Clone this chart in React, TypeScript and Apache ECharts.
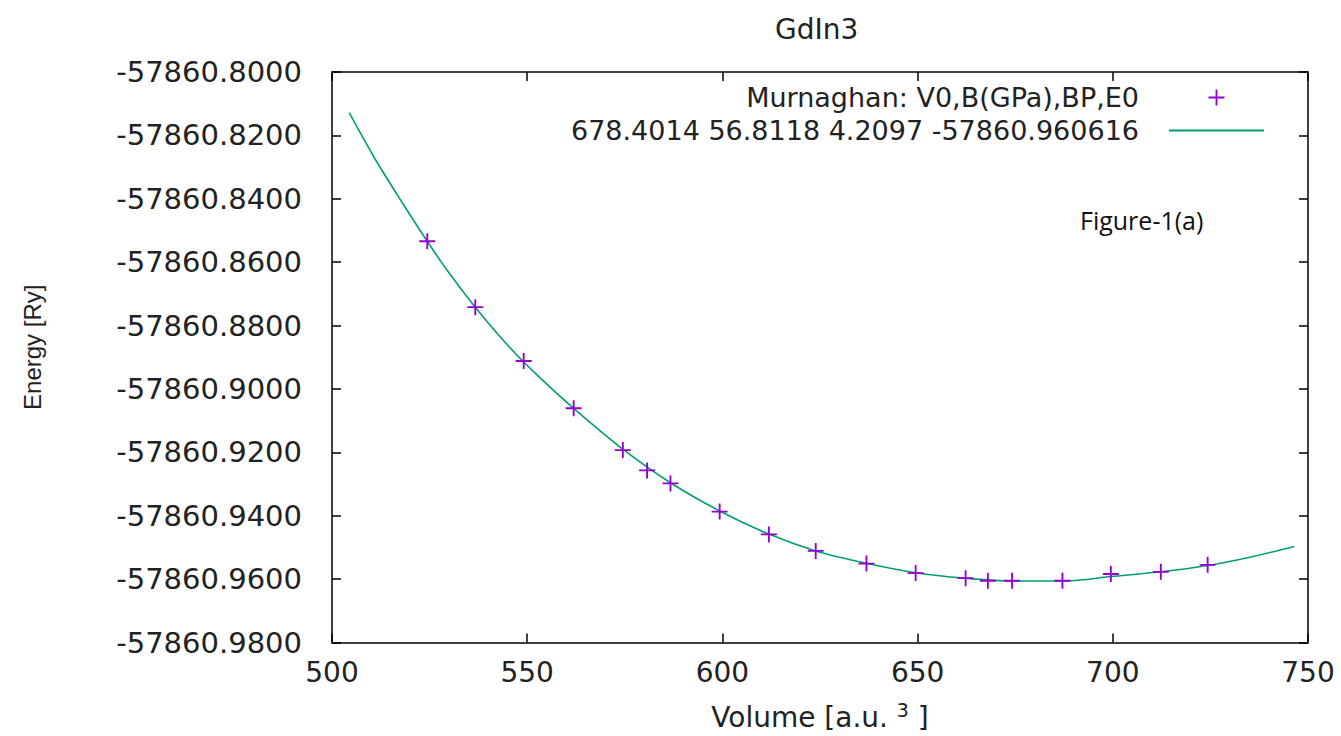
import React, { useEffect, useRef } from "react";
import * as echarts from "echarts";

const TITLE = "GdIn3";
const SCATTER_NAME = "Murnaghan: V0,B(GPa),BP,E0";
const FIT_NAME = "678.4014 56.8118 4.2097 -57860.960616";
const ANNOTATION = "Figure-1(a)";

// Calculated points (volume, energy)
const pointVolumes = [524.4, 536.7, 549.1, 561.9, 574.5, 580.7, 586.7, 599.3, 611.9, 623.9, 636.9, 649.5, 662.3, 668.0, 674.2, 687.1, 699.5, 712.3, 724.3];
const pointEnergies = [-57860.8534, -57860.8742, -57860.8912, -57860.9061, -57860.9193, -57860.9257, -57860.9298, -57860.9387, -57860.9459, -57860.9511, -57860.9551, -57860.9581, -57860.9597, -57860.9605, -57860.9605, -57860.9605, -57860.9584, -57860.9577, -57860.9555];

// Fitted curve
const fitVolumes = [504.4, 511.5, 518.3, 524.4, 529.4, 536.7, 545.6, 553.3, 561.9, 574.5, 586.7, 599.3, 611.9, 623.9, 636.9, 649.5, 662.0, 675.0, 688.0, 699.5, 712.3, 724.3, 735.4, 746.5];
const fitEnergies = [-57860.8128, -57860.8284, -57860.8418, -57860.8534, -57860.8624, -57860.8742, -57860.8870, -57860.8965, -57860.9061, -57860.9190, -57860.9296, -57860.9385, -57860.9458, -57860.9511, -57860.9550, -57860.9580, -57860.9597, -57860.9606, -57860.9606, -57860.9592, -57860.9577, -57860.9557, -57860.9530, -57860.9497];

const X_MIN = 500;
const X_MAX = 750;
const X_STEP = 50;
const Y_MIN = -57860.98;
const Y_MAX = -57860.8;
const Y_STEP = 0.02;

const FONT = "'DejaVu Sans', 'Liberation Sans', sans-serif";
const PLUS = "path://M5.3,0h1.4v5.3h5.3v1.4h-5.3v5.3h-1.4v-5.3h-5.3v-1.4h5.3z";

export default function App() {
  const ref = useRef<HTMLDivElement>(null);
  useEffect(() => {
    if (!ref.current) return;
    const chart = echarts.init(ref.current, null, { renderer: "svg" });
    const frameLine = { show: true, onZero: false, lineStyle: { color: "#000", width: 1.5 } };
    const tick = { show: true, inside: true, length: 9, lineStyle: { color: "#000", width: 1.5 } };
    chart.setOption({
      animation: false,
      backgroundColor: "#fff",
      title: {
        text: TITLE,
        left: 770,
        top: 10,
        textStyle: { fontFamily: FONT, fontSize: 28, fontWeight: "normal", color: "#222" },
      },
      legend: {
        orient: "vertical",
        right: 71,
        top: 79,
        align: "right",
        itemWidth: 95,
        itemHeight: 16,
        itemGap: 6,
        selectedMode: false,
        textStyle: { fontFamily: FONT, fontSize: 27, color: "#222", padding: [0, 25, 0, 0] },
        data: [{ name: SCATTER_NAME }, { name: FIT_NAME, itemStyle: { opacity: 0 } }],
      },
      grid: { left: 332, right: 33, top: 72, bottom: 92, containLabel: false },
      xAxis: [
        {
          type: "value",
          min: X_MIN,
          max: X_MAX,
          interval: X_STEP,
          position: "bottom",
          axisLine: frameLine,
          axisTick: tick,
          splitLine: { show: false },
          axisLabel: { fontFamily: FONT, fontSize: 28, color: "#222", margin: 16 },
          name: "Volume [a.u. {sup|3} ]",
          nameLocation: "middle",
          nameGap: 58,
          nameTextStyle: {
            fontFamily: FONT,
            fontSize: 28,
            color: "#222",
            rich: {
              sup: { fontFamily: FONT, fontSize: 19, color: "#222", verticalAlign: "top", padding: [0, 0, 14, 0] },
            },
          },
        },
        {
          type: "value",
          min: X_MIN,
          max: X_MAX,
          interval: X_STEP,
          position: "top",
          axisLine: frameLine,
          axisTick: tick,
          splitLine: { show: false },
          axisLabel: { show: false },
        },
      ],
      yAxis: [
        {
          type: "value",
          min: Y_MIN,
          max: Y_MAX,
          interval: Y_STEP,
          position: "left",
          scale: true,
          axisLine: frameLine,
          axisTick: tick,
          splitLine: { show: false },
          axisLabel: {
            fontFamily: FONT,
            fontSize: 29,
            color: "#222",
            margin: 30,
            formatter: (v: number) => v.toFixed(4),
          },
          name: "Energy [Ry]",
          nameLocation: "middle",
          nameGap: 288,
          nameTextStyle: {
            fontFamily: "'Liberation Sans', sans-serif",
            fontSize: 24,
            color: "#222",
            padding: [0, 0, 0, 20],
          },
        },
        {
          type: "value",
          min: Y_MIN,
          max: Y_MAX,
          interval: Y_STEP,
          position: "right",
          scale: true,
          axisLine: frameLine,
          axisTick: tick,
          splitLine: { show: false },
          axisLabel: { show: false },
        },
      ],
      graphic: [
        {
          type: "text",
          left: 1080,
          top: 207,
          style: { text: ANNOTATION, fontFamily: "'Open Sans', Lato, sans-serif", fontSize: 25, fill: "#111" },
        },
      ],
      series: [
        {
          name: FIT_NAME,
          type: "line",
          xAxisIndex: 0,
          yAxisIndex: 0,
          smooth: 0.3,
          symbol: "none",
          showSymbol: false,
          lineStyle: { color: "#009e73", width: 1.6 },
          itemStyle: { color: "#009e73" },
          data: fitVolumes.map((v, i) => [v, fitEnergies[i]]),
          z: 2,
        },
        {
          name: SCATTER_NAME,
          type: "scatter",
          xAxisIndex: 0,
          yAxisIndex: 0,
          symbol: PLUS,
          symbolSize: 16,
          symbolKeepAspect: true,
          itemStyle: { color: "#9400d3", opacity: 1 },
          data: pointVolumes.map((v, i) => [v, pointEnergies[i]]),
          z: 3,
        },
      ],
    });
    return () => chart.dispose();
  }, []);
  return (
    <div
      ref={ref}
      style={{ position: "fixed", left: 0, top: 0, width: 1341, height: 736, background: "#fff" }}
    />
  );
}
